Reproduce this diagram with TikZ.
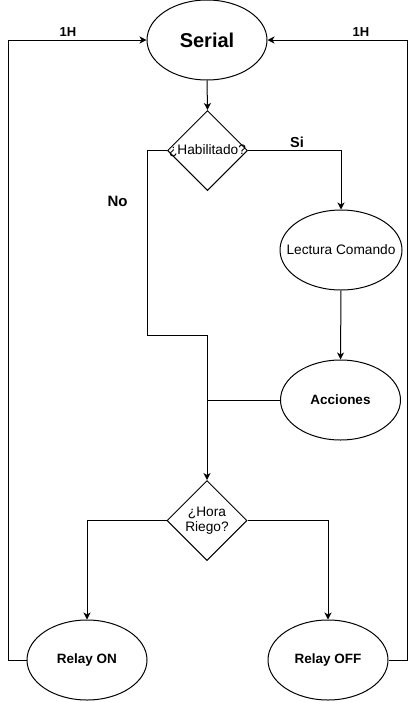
\documentclass[tikz,border=0pt]{standalone}
\usepackage{fontspec}
\setmainfont{Liberation Sans}
\usetikzlibrary{shapes.geometric,arrows.meta}
\tikzset{
  ell/.style={ellipse, draw, line width=1pt, minimum width=120pt, minimum height=80pt, inner sep=0pt},
  dia/.style={diamond, draw, line width=1pt, minimum width=80pt, minimum height=80pt, inner sep=0pt},
  conn/.style={line width=1pt},
  arr/.style={conn, -{Stealth[length=7pt,width=7pt,inset=2pt]}},
  txt/.style={font=\fontsize{13.7pt}{15pt}\selectfont, align=center},
  btxt/.style={font=\fontsize{13.5pt}{15pt}\selectfont\bfseries},
  big/.style={font=\fontsize{20pt}{22pt}\selectfont\bfseries}
}
\begin{document}
\begin{tikzpicture}[x=1pt,y=-1pt]
\useasboundingbox (0,0) rectangle (417,702);
\node[ell, label={[big]center:Serial}] (serial) at (207,40) {};
\node[dia, label={[txt]center:¿Habilitado?}] (hab) at (207.5,150.5) {};
\node[ell, minimum width=122pt, label={[txt]center:Lectura Comando}] (lect) at (341,250) {};
\node[ell, label={[btxt]center:Acciones}] (acc) at (340.5,400) {};
\node[dia, label={[txt]center:¿Hora\\Riego?}] (hora) at (207,520.5) {};
\node[ell, label={[btxt]center:Relay ON}] (ron) at (87,660) {};
\node[ell, label={[btxt]center:Relay OFF}] (roff) at (328,660) {};

\coordinate (nocorner) at (147.5,335.5);
\coordinate (nojoin) at (207,335.5);
\coordinate (accjoin) at (207,400);
\coordinate (lt) at (8,40);
\coordinate (rt) at (407,40);

\draw[arr] (serial.south) -- (hab.north);
\draw[arr] (hab.east) -| (lect.north);
\draw[arr] (hab.west) -| (nocorner) -- (nojoin) -- (hora.north);
\draw[arr] (lect.south) -- (acc.north);
\draw[conn] (acc.west) -- (accjoin);
\draw[arr] (hora.west) -| (ron.north);
\draw[arr] (hora.east) -| (roff.north);
\draw[arr] (ron.west) -| (lt) -- (serial.west);
\draw[arr] (roff.east) -| (rt) -- (serial.east);

\node[btxt, font=\fontsize{13pt}{15pt}\selectfont\bfseries] (h1) at (68,32) {1H};
\node[btxt, font=\fontsize{13pt}{15pt}\selectfont\bfseries] (h2) at (361,32) {1H};
\node[btxt, font=\fontsize{14.5pt}{16pt}\selectfont\bfseries] (si) at (297,142) {Si};
\node[btxt, font=\fontsize{15pt}{16pt}\selectfont\bfseries] (no) at (117.5,201) {No};
\end{tikzpicture}
\end{document}
